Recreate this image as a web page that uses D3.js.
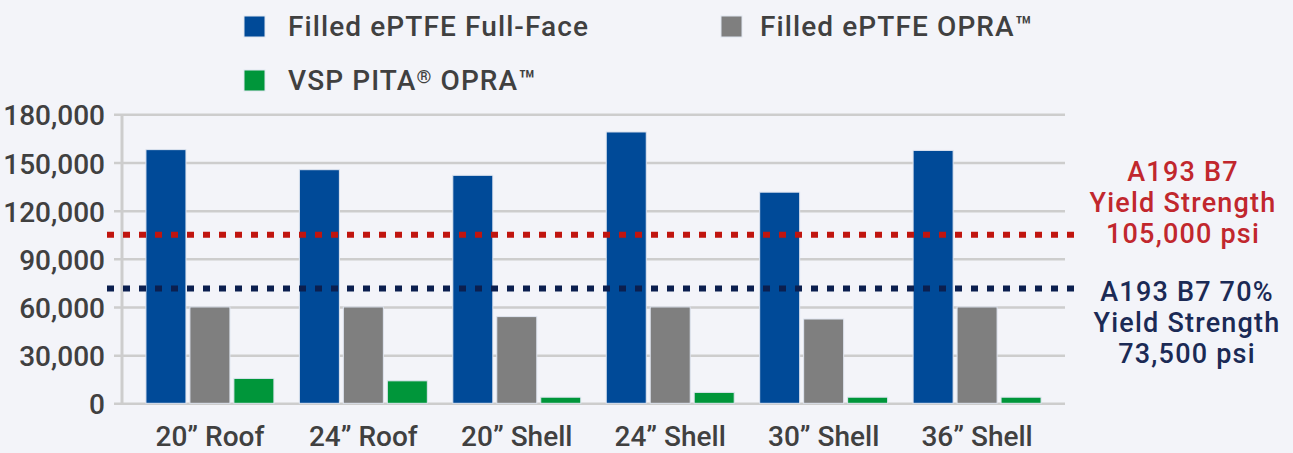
<!DOCTYPE html>
<html>
<head>
<meta charset="utf-8">
<script src="https://cdn.jsdelivr.net/npm/d3@7"></script>
<style>
  html, body { margin: 0; padding: 0; background: #f3f4f9; }
  svg { display: block; font-family: Roboto, "Noto Sans", sans-serif; }
</style>
</head>
<body>
<script>
const width = 1293;
const height = 453;

// categories and series
const categories = ["20\u201D Roof", "24\u201D Roof", "20\u201D Shell", "24\u201D Shell", "30\u201D Shell", "36\u201D Shell"];
const seriesNames = ["Filled ePTFE Full-Face", "Filled ePTFE OPRA\u2122", "VSP PITA\u00AE OPRA\u2122"];
const fullFace = [158000, 145500, 142000, 169000, 131500, 157500];
const opraFilled = [60000, 60000, 54000, 60000, 52500, 60000];
const pitaOpra = [15500, 14000, 3800, 6800, 3800, 3800];
const yTicks = [0, 30000, 60000, 90000, 120000, 150000, 180000];

// reference lines (as drawn) and their notes
const refValues = [105000, 71500];
const refNotes = [
  ["A193 B7", "Yield Strength", "105,000 psi"],
  ["A193 B7 70%", "Yield Strength", "73,500 psi"]
];

const colors = ["#004a98", "#7f7f7f", "#00963a"];
const refColors = ["#c0150f", "#0b1f4f"];
const refTextColors = ["#c1272d", "#1b2a55"];

const data = categories.map((c, i) => ({
  cat: c,
  values: [fullFace[i], opraFilled[i], pitaOpra[i]]
}));

const svg = d3.select("body").append("svg")
  .attr("width", width)
  .attr("height", height);

const x0 = d3.scaleBand()
  .domain(categories)
  .range([122, 1065])
  .paddingInner(0.166)
  .paddingOuter(0.156);

const x1 = d3.scaleBand()
  .domain(seriesNames)
  .range([0, x0.bandwidth()])
  .paddingInner(0.09);

const y = d3.scaleLinear()
  .domain([0, 180000])
  .range([403.3, 114.3]);

// gridlines + tick labels
const yAxis = svg.append("g")
  .attr("transform", "translate(114,0)")
  .call(d3.axisLeft(y)
    .tickValues(yTicks)
    .tickFormat(d3.format(","))
    .tickSizeInner(-(1065 - 114))
    .tickSizeOuter(0)
    .tickPadding(9));

yAxis.select(".domain").remove();
yAxis.selectAll(".tick line")
  .attr("stroke", "#cdcdcd")
  .attr("stroke-width", 2.5);
yAxis.selectAll(".tick text")
  .attr("fill", "#404040")
  .attr("font-size", 28)
  .attr("font-weight", 500)
  .attr("font-family", "Roboto, sans-serif")
  .attr("dy", "0.38em");

svg.append("line")
  .attr("x1", 122).attr("x2", 122)
  .attr("y1", y(180000)).attr("y2", y(0))
  .attr("stroke", "#cdcdcd")
  .attr("stroke-width", 3);

// bars
const groups = svg.append("g")
  .selectAll("g")
  .data(data)
  .join("g")
  .attr("transform", d => "translate(" + x0(d.cat) + ",0)");

groups.selectAll("rect")
  .data(d => d.values.map((v, i) => ({ name: seriesNames[i], value: v, i: i })))
  .join("rect")
  .attr("x", d => x1(d.name))
  .attr("y", d => y(d.value))
  .attr("width", x1.bandwidth())
  .attr("height", d => y(0) - y(d.value))
  .attr("fill", d => colors[d.i])
  .attr("stroke", "#dfe5f0")
  .attr("stroke-width", 1);

// category labels
svg.append("g")
  .selectAll("text")
  .data(categories)
  .join("text")
  .attr("x", d => x0(d) + x0.bandwidth() / 2)
  .attr("y", 446)
  .attr("text-anchor", "middle")
  .attr("fill", "#404040")
  .attr("font-size", 28)
  .attr("font-weight", 500)
  .text(d => d);

// dotted reference lines
svg.append("g")
  .selectAll("line")
  .data(refValues)
  .join("line")
  .attr("x1", 107)
  .attr("x2", 1076)
  .attr("y1", d => y(d))
  .attr("y2", d => y(d))
  .attr("stroke", (d, i) => refColors[i])
  .attr("stroke-width", 6)
  .attr("stroke-dasharray", "7,9");

// notes on the right
const noteY = [181, 301];
const noteX = [1183, 1187];
refNotes.forEach((lines, i) => {
  const t = svg.append("text")
    .attr("x", noteX[i])
    .attr("y", noteY[i])
    .attr("text-anchor", "middle")
    .attr("fill", refTextColors[i])
    .attr("font-size", 27)
    .attr("font-weight", 500)
    .attr("letter-spacing", 1.2);
  lines.forEach((l, j) => {
    t.append("tspan")
      .attr("x", noteX[i])
      .attr("dy", j === 0 ? 0 : 31)
      .text(l);
  });
});

// legend
const legendBox = [[244, 16], [721, 16], [244, 70]];
const legendText = [288, 760, 288];
const legend = svg.append("g")
  .selectAll("g")
  .data(seriesNames)
  .join("g");

legend.append("rect")
  .attr("x", (d, i) => legendBox[i][0])
  .attr("y", (d, i) => legendBox[i][1])
  .attr("width", 21)
  .attr("height", 21)
  .attr("fill", (d, i) => colors[i])
  .attr("stroke", "#dfe5f0")
  .attr("stroke-width", 1);

legend.append("text")
  .attr("x", (d, i) => legendText[i])
  .attr("y", (d, i) => legendBox[i][1] + 20)
  .attr("fill", "#404040")
  .attr("font-size", 28)
  .attr("font-weight", 500)
  .attr("letter-spacing", 1.1)
  .each(function (d) {
    // small raised ® mark
    const t = d3.select(this);
    d.split(/(\u00AE)/).filter(s => s.length).forEach(s => {
      if (s === "\u00AE") {
        t.append("tspan").attr("font-size", 19).attr("baseline-shift", "7").text(s);
      } else {
        t.append("tspan").text(s);
      }
    });
  });
</script>
</body>
</html>
